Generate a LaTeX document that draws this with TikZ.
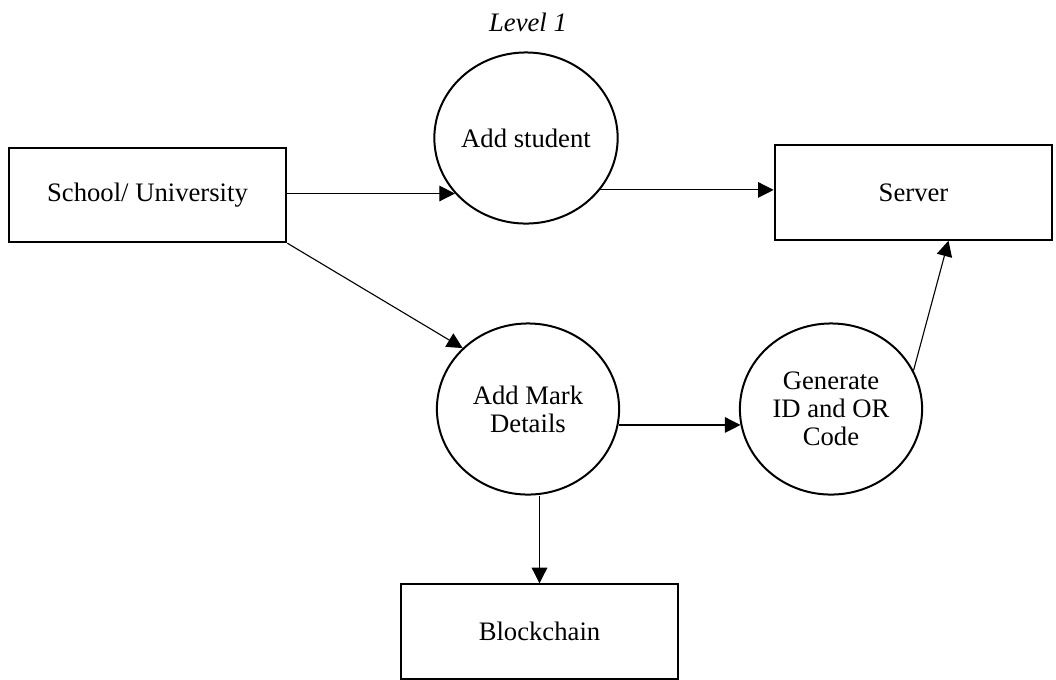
\documentclass[tikz,border=0pt]{standalone}
\usepackage{fontspec}
\setmainfont{Liberation Serif}
\usepackage{tikz}
\usetikzlibrary{arrows.meta}
\usetikzlibrary{calc}
\usetikzlibrary{shapes.geometric}

\begin{document}
\begin{tikzpicture}[x=0.45pt,y=-0.45pt,
    font=\fontsize{12}{12.6}\selectfont,
    entity/.style={draw,line width=0.9pt,rectangle,minimum width=125pt,minimum height=42.5pt,inner sep=0pt},
    proc/.style={draw,line width=0.9pt,ellipse,minimum width=82pt,minimum height=77pt,inner sep=0pt,align=center},
    flow/.style={line width=0.5pt,-{Triangle[length=7pt,width=7pt]}}]

      \useasboundingbox (0,0) rectangle (1056,679);

      % title
      \node (level) at (528,22) {\textit{Level 1}};

      % external entities
      \node[entity] (school) at (147.5,195) {School/ University};
      \node[entity] (server) at (913.5,192.5) {Server};
      \node[entity] (chain) at (539.5,631.5) {Blockchain};

      % processes
      \node[proc] (addstu) at (526,138) {Add student};
      \node[proc] (addmark) at (528,409) {Add Mark\\Details};
      \node[proc] (gen) at (831,409) {Generate\\ID and OR\\Code};

      % flows
      \draw[flow] (school.east |- addstu.218) -- (addstu.218);
      \draw[flow] (addstu.325) -- (addstu.325 -| server.west);
      \draw[flow] (school.south east) -- (addmark.137);
      \draw[flow] (addmark.350) -- (gen.190);
      \draw[flow] (gen.25) -- ($(server.south)!0.25!(server.south east)$);
      \draw[flow] (addmark.south -| chain.north) -- (chain.north);

    \end{tikzpicture}
\end{document}
